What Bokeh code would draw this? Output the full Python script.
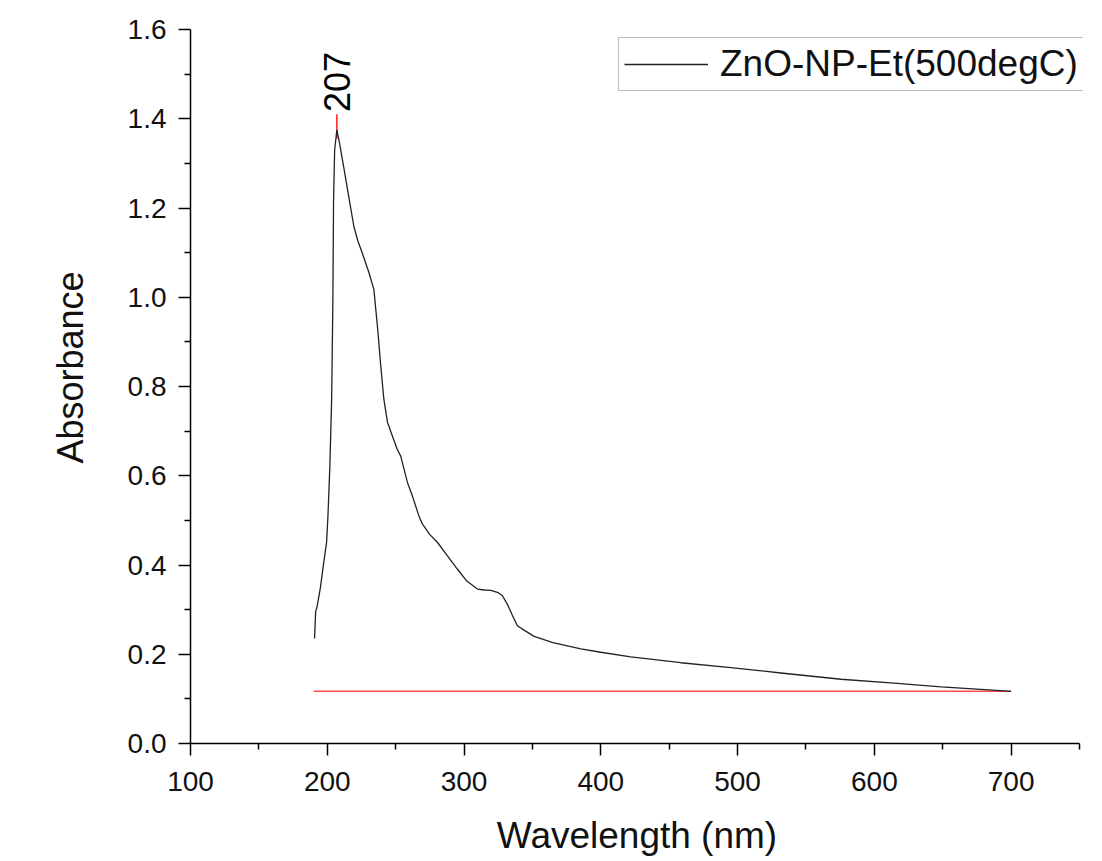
import math
from bokeh.plotting import figure
from bokeh.models import (Range1d, FixedTicker, PrintfTickFormatter, Legend, LegendItem, Title)
from bokeh.core.properties import value
from bokeh.embed import file_html
from bokeh.resources import INLINE

# ---- data ----
wavelength = [190.7, 191.5, 192.7, 195.0, 197.1, 199.5, 200.5, 201.9, 203.2, 204.1,
              204.6, 205.4, 207.0, 209.0, 212.0, 216.0, 219.5, 222.5, 225.6, 230.5,
              234.1, 235.4, 237.1, 239.0, 241.4, 244.0, 247.6, 251.2, 253.7, 258.6,
              262.2, 267.0, 269.5, 275.0, 280.5, 288.0, 295.1, 302.0, 309.8, 315.0,
              319.5, 325.0, 328.1, 332.0, 335.4, 339.0, 343.9, 351.2, 365.0, 385.4,
              400.0, 421.9, 458.5, 495.1, 531.7, 575.6, 612.0, 648.8, 675.0, 700.0]
absorbance = [0.235, 0.295, 0.309, 0.350, 0.398, 0.451, 0.510, 0.622, 0.771, 0.994,
              1.218, 1.330, 1.375, 1.345, 1.292, 1.220, 1.158, 1.125, 1.099, 1.055,
              1.017, 0.975, 0.921, 0.850, 0.771, 0.720, 0.689, 0.659, 0.644, 0.585,
              0.555, 0.510, 0.492, 0.468, 0.451, 0.420, 0.391, 0.364, 0.346, 0.344,
              0.343, 0.338, 0.331, 0.310, 0.287, 0.264, 0.254, 0.240, 0.226, 0.212,
              0.2045, 0.194, 0.181, 0.170, 0.158, 0.144, 0.136, 0.127, 0.122, 0.117]
series_name = "ZnO-NP-Et(500degC)"
baseline_x = [190, 700]
baseline_y = [0.117, 0.117]
peak_x = [207]
peak_y = [1.375]
peak_label = ["207"]
x_major = [100, 200, 300, 400, 500, 600, 700]
y_major = [0.0, 0.2, 0.4, 0.6, 0.8, 1.0, 1.2, 1.4, 1.6]
x_title = "Wavelength (nm)"
y_title = "Absorbance"

FONT = "Liberation Sans"
X0, X_AXIS_END = 100, 750
AXIS_W = 889          # pixels spanned by the drawn x axis
EXTRA_R = 4           # frame extends a little past the axis end (room for the legend box)
X1 = X_AXIS_END + EXTRA_R * (X_AXIS_END - X0) / AXIS_W

p = figure(width=1094, height=858, output_backend="svg", toolbar_location=None,
           x_range=Range1d(X0, X1), y_range=Range1d(0, 1.6),
           min_border_left=190, min_border_right=1094 - 190 - AXIS_W - EXTRA_R,
           min_border_top=29, min_border_bottom=113)
p.outline_line_color = None
p.xgrid.visible = False
p.ygrid.visible = False
p.background_fill_color = "white"
p.border_fill_color = "white"

# baseline & peak marker (red)
p.line(baseline_x, baseline_y, line_color="#ff4a4a", line_width=1.4)
p.segment(x0=peak_x, y0=[v - 0.02 for v in peak_y], x1=peak_x, y1=[v + 0.035 for v in peak_y],
          line_color="#ff2a2a", line_width=1.6)

r = p.line(wavelength, absorbance, line_color="#222222", line_width=1.3)

p.text(x=peak_x, y=[v + 0.04 for v in peak_y], text=peak_label, angle=math.pi / 2,
       text_align="left", text_baseline="middle", text_font=value(FONT),
       text_font_size="36px", text_color="black")

# axes
x_minor = [150 + 100 * i for i in range(7)]
y_minor = [0.1 + 0.2 * i for i in range(8)]
p.xaxis.ticker = FixedTicker(ticks=x_major, minor_ticks=x_minor)
p.yaxis.ticker = FixedTicker(ticks=y_major, minor_ticks=y_minor)
p.yaxis.formatter = PrintfTickFormatter(format="%.1f")
p.xaxis.bounds = (X0, X_AXIS_END)
for ax in (p.xaxis[0], p.yaxis[0]):
    ax.axis_line_width = 1.5
    ax.axis_line_color = "black"
    ax.major_tick_line_width = 1.5
    ax.major_tick_line_color = "black"
    ax.minor_tick_line_width = 1.5
    ax.minor_tick_line_color = "black"
    ax.major_tick_in = 0
    ax.major_tick_out = 12
    ax.minor_tick_in = 0
    ax.minor_tick_out = 6
    ax.major_label_text_font = FONT
    ax.major_label_text_font_size = "28px"
    ax.major_label_text_color = "#111111"
    ax.axis_label_text_font = FONT
    ax.axis_label_text_font_size = "37px"
    ax.axis_label_text_font_style = "normal"
    ax.axis_label_text_color = "#111111"
p.xaxis.axis_label = x_title
p.xaxis.major_label_standoff = 16
p.xaxis.axis_label_standoff = 21
p.yaxis.major_label_standoff = 12
# invisible spacer label on the y axis pushes the side title outward
p.yaxis.axis_label = " "
p.yaxis.axis_label_text_font_size = "22px"
p.yaxis.axis_label_standoff = 6
p.yaxis.axis_label_text_alpha = 0

# y title as a side title so it can sit a little above the frame centre
p.add_layout(Title(text=y_title, align="left", offset=280, standoff=0,
                   text_font=FONT, text_font_size="36px", text_font_style="normal",
                   text_color="#111111"), "left")

legend = Legend(items=[LegendItem(label=series_name, renderers=[r])],
                location=(428, 652), padding=5, margin=0, spacing=0,
                glyph_width=84, glyph_height=20, label_standoff=12,
                label_text_font=FONT, label_text_font_size="37px",
                label_text_color="#111111",
                border_line_color="#777777", border_line_width=1.5,
                background_fill_color="white", background_fill_alpha=1.0)
p.add_layout(legend)

open("out.html", "w").write(file_html(p, INLINE))
